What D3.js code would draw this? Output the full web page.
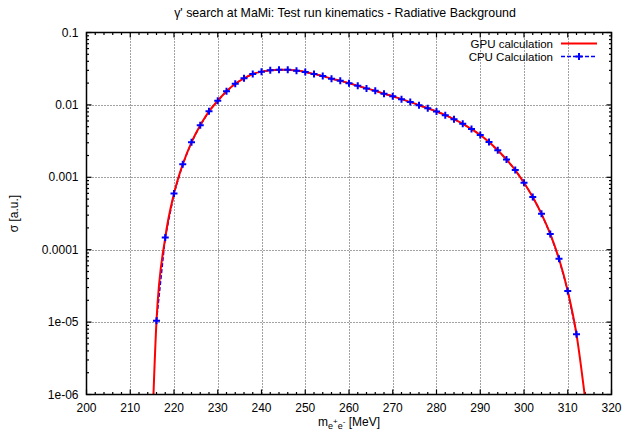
<!DOCTYPE html>
<html>
<head>
<meta charset="utf-8">
<script src="https://cdn.jsdelivr.net/npm/d3@7/dist/d3.min.js"></script>
<style>
  body { margin: 0; background: #fff; }
  svg text { font-family: "Liberation Sans", Arial, sans-serif; fill: #000; }
</style>
</head>
<body>
<svg id="chart" width="625" height="434"></svg>
<script>
// CPU points (MeV, a.u.)
var cpuEnergy = [216, 218, 220, 222, 224, 226, 228, 230, 232, 234, 236, 238, 240, 242, 244, 246,
                 248, 250, 252, 254, 256, 258, 260, 262, 264, 266, 268, 270, 272, 274, 276, 278,
                 280, 282, 284, 286, 288, 290, 292, 294, 296, 298, 300, 302, 304, 306, 308, 310, 312];
var cpuSigma = [1.04e-5, 1.47e-4, 5.97e-4, 1.51e-3, 3.04e-3, 5.23e-3, 8.15e-3, 1.14e-2, 1.54e-2,
                1.96e-2, 2.33e-2, 2.67e-2, 2.88e-2, 3.01e-2, 3.07e-2, 3.07e-2, 2.97e-2, 2.85e-2,
                2.67e-2, 2.51e-2, 2.30e-2, 2.16e-2, 1.99e-2, 1.84e-2, 1.69e-2, 1.57e-2, 1.42e-2,
                1.32e-2, 1.20e-2, 1.10e-2, 9.89e-3, 9.00e-3, 8.10e-3, 7.22e-3, 6.36e-3, 5.48e-3,
                4.63e-3, 3.84e-3, 3.08e-3, 2.36e-3, 1.76e-3, 1.26e-3, 8.42e-4, 5.35e-4, 3.13e-4,
                1.65e-4, 7.48e-5, 2.69e-5, 6.78e-6];
// GPU curve: same points plus the ends where it leaves the frame
var gpuEnergy = [215].concat(cpuEnergy, [314]);
var gpuSigma = [3.0e-7].concat(cpuSigma, [8.5e-7]);

var xTicks = [200, 210, 220, 230, 240, 250, 260, 270, 280, 290, 300, 310, 320];
var yTicks = [0.1, 0.01, 0.001, 0.0001, 1e-5, 1e-6];
var yTickLabels = ["0.1", "0.01", "0.001", "0.0001", "1e-05", "1e-06"];

var titleText = "\u03b3' search at MaMi: Test run kinematics - Radiative Background";

var pLeft = 86.5, pRight = 611.5, pTop = 32.5, pBottom = 394.5;

var svg = d3.select("#chart"),
    x = d3.scaleLinear().domain([200, 320]).range([pLeft, pRight]),
    y = d3.scaleLog().domain([1e-6, 0.1]).range([pBottom, pTop]);

var xMinor = d3.range(202, 320, 2).filter(function(v) { return v % 10 !== 0; }),
    yMinor = [];
yTicks.slice(1).forEach(function(t) {
  for (var k = 2; k <= 9; k++) yMinor.push(t * k);
});

// grid
var grid = svg.append("g")
    .attr("stroke", "#444")
    .attr("stroke-width", 1)
    .attr("stroke-dasharray", "1,2");
grid.selectAll(".gx").data(xTicks.slice(1, -1))
  .enter().append("line")
    .attr("x1", function(d) { return Math.round(x(d)) + 0.5; })
    .attr("x2", function(d) { return Math.round(x(d)) + 0.5; })
    .attr("y1", pTop).attr("y2", pBottom);
grid.selectAll(".gy").data(yTicks.slice(1, -1))
  .enter().append("line")
    .attr("y1", function(d) { return Math.round(y(d)) + 0.5; })
    .attr("y2", function(d) { return Math.round(y(d)) + 0.5; })
    .attr("x1", pLeft).attr("x2", pRight);

// ticks on all four sides
var ticks = svg.append("g").attr("stroke", "#000").attr("stroke-width", 1.2);
function xTickMarks(data, len) {
  ticks.selectAll(null).data(data).enter().append("line")
    .attr("x1", function(d) { return x(d); }).attr("x2", function(d) { return x(d); })
    .attr("y1", pBottom).attr("y2", pBottom - len);
  ticks.selectAll(null).data(data).enter().append("line")
    .attr("x1", function(d) { return x(d); }).attr("x2", function(d) { return x(d); })
    .attr("y1", pTop).attr("y2", pTop + len);
}
function yTickMarks(data, len) {
  ticks.selectAll(null).data(data).enter().append("line")
    .attr("y1", function(d) { return y(d); }).attr("y2", function(d) { return y(d); })
    .attr("x1", pLeft).attr("x2", pLeft + len);
  ticks.selectAll(null).data(data).enter().append("line")
    .attr("y1", function(d) { return y(d); }).attr("y2", function(d) { return y(d); })
    .attr("x1", pRight).attr("x2", pRight - len);
}
xTickMarks(xTicks, 5);
xTickMarks(xMinor, 2.5);
yTickMarks(yTicks, 5);
yTickMarks(yMinor, 2.5);

svg.append("defs").append("clipPath").attr("id", "plotclip")
  .append("rect").attr("x", pLeft).attr("y", pTop)
  .attr("width", pRight - pLeft).attr("height", pBottom - pTop);

var cpu = cpuEnergy.map(function(e, i) { return {e: e, s: cpuSigma[i]}; }),
    gpu = gpuEnergy.map(function(e, i) { return {e: e, s: gpuSigma[i]}; });

var line = d3.line()
    .x(function(d) { return x(d.e); })
    .y(function(d) { return y(d.s); });

var plot = svg.append("g").attr("clip-path", "url(#plotclip)");
plot.append("path").datum(cpu)
    .attr("d", line.curve(d3.curveLinear))
    .attr("fill", "none").attr("stroke", "#0000ff")
    .attr("stroke-width", 1.5).attr("stroke-dasharray", "4,2");
plot.append("path").datum(gpu)
    .attr("d", line.curve(d3.curveMonotoneX))
    .attr("fill", "none").attr("stroke", "#ff0000")
    .attr("stroke-width", 2);

function cross(sel, size) {
  sel.append("path")
    .attr("d", "M" + (-size) + ",0H" + size + "M0," + (-size) + "V" + size)
    .attr("stroke", "#0000ff").attr("stroke-width", 2).attr("fill", "none");
}
plot.selectAll(".pt").data(cpu)
  .enter().append("g")
    .attr("class", "pt")
    .attr("transform", function(d) { return "translate(" + x(d.e) + "," + y(d.s) + ")"; })
    .call(cross, 3.5);

// frame
svg.append("rect")
    .attr("x", pLeft).attr("y", pTop)
    .attr("width", pRight - pLeft).attr("height", pBottom - pTop)
    .attr("fill", "none").attr("stroke", "#000").attr("stroke-width", 1.5);

// tick labels
svg.selectAll(".xl").data(xTicks)
  .enter().append("text")
    .attr("x", function(d) { return x(d); })
    .attr("y", pBottom + 17)
    .attr("text-anchor", "middle")
    .style("font-size", "12px")
    .text(function(d) { return d; });
svg.selectAll(".yl").data(yTicks)
  .enter().append("text")
    .attr("x", pLeft - 8)
    .attr("y", function(d) { return y(d) + 4; })
    .attr("text-anchor", "end")
    .style("font-size", "12px")
    .text(function(d, i) { return yTickLabels[i]; });

// title and axis labels
svg.append("text")
    .attr("x", 345).attr("y", 17)
    .attr("text-anchor", "middle")
    .style("font-size", "12.4px")
    .text(titleText);

svg.append("text")
    .attr("transform", "translate(18," + ((pTop + pBottom) / 2) + ") rotate(-90)")
    .attr("text-anchor", "middle")
    .style("font-size", "12px")
    .text("\u03c3 [a.u.]");

var xl = svg.append("text")
    .attr("x", (pLeft + pRight) / 2).attr("y", 426)
    .attr("text-anchor", "middle")
    .style("font-size", "12px");
xl.append("tspan").text("m");
xl.append("tspan").attr("dy", 3).style("font-size", "9px").text("e");
xl.append("tspan").attr("dy", -5).style("font-size", "8px").text("+");
xl.append("tspan").attr("dy", 5).style("font-size", "9px").text("e");
xl.append("tspan").attr("dy", -5).style("font-size", "8px").text("-");
xl.append("tspan").attr("dy", 2).text(" [MeV]");

// legend
var legend = svg.append("g");
legend.append("text")
    .attr("x", 553).attr("y", 47.5)
    .attr("text-anchor", "end")
    .style("font-size", "11.5px")
    .text("GPU calculation");
legend.append("text")
    .attr("x", 553).attr("y", 60.5)
    .attr("text-anchor", "end")
    .style("font-size", "11.5px")
    .text("CPU Calculation");
legend.append("line")
    .attr("x1", 561).attr("x2", 597).attr("y1", 43.5).attr("y2", 43.5)
    .attr("stroke", "#ff0000").attr("stroke-width", 2);
legend.append("line")
    .attr("x1", 561).attr("x2", 597).attr("y1", 56.5).attr("y2", 56.5)
    .attr("stroke", "#0000ff").attr("stroke-width", 1.5).attr("stroke-dasharray", "4,2");
legend.append("g").attr("transform", "translate(579,56.5)").call(cross, 3.5);
</script>
</body>
</html>
